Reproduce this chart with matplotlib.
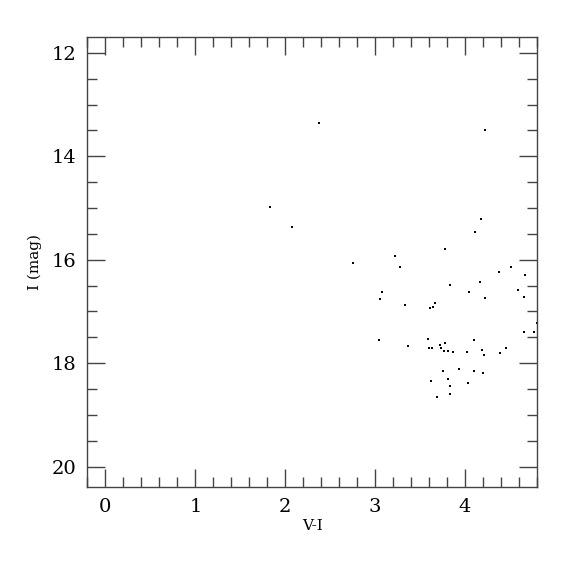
import matplotlib
matplotlib.use('Agg')
import matplotlib.pyplot as plt
from matplotlib.ticker import MultipleLocator

# colour (V-I) and magnitude (I) of the stars
v_i = [2.378, 1.833, 2.078, 3.222, 2.752, 3.28, 3.074, 3.056,
       4.22, 4.178, 4.111, 3.78, 4.38, 4.507, 4.663, 3.83, 4.17,
       4.048, 4.59, 4.65, 4.222, 3.337, 3.663, 3.64, 3.61,
       4.797, 4.652, 4.767, 3.04, 3.363, 3.589, 3.596, 3.637, 3.726,
       3.778, 3.733, 3.767, 3.807, 3.867, 4.096, 4.026, 4.185, 4.207,
       4.385, 4.459, 3.752, 3.93, 4.1, 4.196, 3.622, 3.815, 3.833,
       4.037, 3.833, 3.685]
i_mag = [13.35, 14.98, 15.37, 15.93, 16.06, 16.14, 16.62, 16.76,
         13.50, 15.22, 15.46, 15.79, 16.24, 16.14, 16.29, 16.48, 16.43,
         16.63, 16.59, 16.72, 16.73, 16.88, 16.83, 16.92, 16.93,
         17.22, 17.39, 17.40, 17.55, 17.66, 17.54, 17.70, 17.71, 17.64,
         17.60, 17.71, 17.77, 17.77, 17.78, 17.56, 17.78, 17.74, 17.85,
         17.81, 17.71, 18.16, 18.12, 18.16, 18.19, 18.34, 18.31, 18.44,
         18.38, 18.59, 18.66]

plt.rcParams['font.family'] = ['DejaVu Serif']

fig = plt.figure(figsize=(5.75, 5.75), dpi=100)
ax = fig.add_axes([0.152, 0.1525, 0.782, 0.7825])

ax.plot(v_i, i_mag, 's', color='black', markersize=1.6, markeredgewidth=0)

ax.set_xlim(-0.2, 4.8)
ax.set_ylim(20.4, 11.7)

ax.xaxis.set_major_locator(MultipleLocator(1))
ax.xaxis.set_minor_locator(MultipleLocator(0.2))
ax.yaxis.set_major_locator(MultipleLocator(2))
ax.yaxis.set_minor_locator(MultipleLocator(0.5))

ax.tick_params(which='both', direction='in', top=True, right=True,
               color='#444444', width=1.0, labelsize=14, pad=8)
ax.tick_params(which='major', length=13)
ax.tick_params(which='minor', length=7)
for s in ax.spines.values():
    s.set_color('#444444')
    s.set_linewidth(1.0)

ax.set_xlabel('V-I', fontsize=11, labelpad=2)
ax.set_ylabel('I (mag)', fontsize=11, labelpad=7)

fig.savefig('out.png', dpi=100)
